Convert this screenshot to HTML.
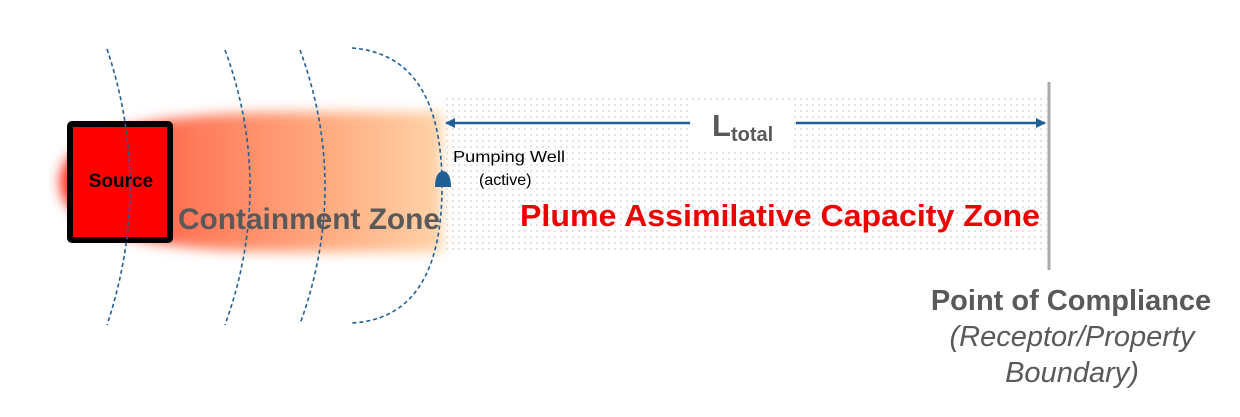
<!DOCTYPE html>
<html><head><meta charset="utf-8"><style>
html,body{margin:0;padding:0;background:#fff;}
svg{display:block;font-family:"Liberation Sans",Arial,sans-serif;}
</style></head><body>
<svg width="1240" height="417" viewBox="0 0 1240 417">
<defs>
<pattern id="dots" width="6" height="6" patternUnits="userSpaceOnUse"><circle cx="3" cy="3" r="0.7" fill="#b8b8b8"/></pattern>
<linearGradient id="plumeGrad" x1="0" x2="1" y1="0" y2="0">
<stop offset="0" stop-color="#ff2a1a"/><stop offset="0.35" stop-color="#ff7a5a"/><stop offset="0.7" stop-color="#ffab80"/><stop offset="1" stop-color="#ffd3a8"/>
</linearGradient>
<filter id="blur" x="-10%" y="-30%" width="120%" height="160%"><feGaussianBlur stdDeviation="6"/></filter>
<marker id="ah" markerWidth="10" markerHeight="10" refX="9" refY="5" orient="auto" markerUnits="userSpaceOnUse"><path d="M0,0 L10,5 L0,10 z" fill="#1f5f96"/></marker>
</defs>
<rect x="442" y="97" width="605" height="157" fill="url(#dots)"/>
<path d="M60,182 C60,120 200,112 300,112 L442,112 L442,252 L300,252 C200,252 60,244 60,182 z" fill="url(#plumeGrad)" filter="url(#blur)"/>
<rect x="70" y="124" width="100" height="116" fill="#ff0000" stroke="#000" stroke-width="6" rx="2"/>
<text x="121" y="187" text-anchor="middle" font-size="19" font-weight="bold" fill="#000">Source</text>
<g fill="none" stroke="#1f5f96" stroke-width="1.6" stroke-dasharray="4,3">
<path d="M107,49 Q153,186 107,325"/>
<path d="M225,50 Q275,186 225,325"/>
<path d="M300,50 Q350,186 300,324"/>
<path d="M352,48 Q442,55 442,186 Q442,318 352,323"/>
</g>
<text x="178" y="229" font-size="30" font-weight="bold" fill="#595959" textLength="262" lengthAdjust="spacingAndGlyphs">Containment Zone</text>
<line x1="690" y1="123" x2="446" y2="123" stroke="#1f5f96" stroke-width="2.5" marker-end="url(#ah)"/>
<line x1="796" y1="123" x2="1045" y2="123" stroke="#1f5f96" stroke-width="2.5" marker-end="url(#ah)"/>
<rect x="692" y="100" width="102" height="48" fill="#fff"/>
<text x="712" y="136" font-size="31" font-weight="bold" fill="#595959">L<tspan font-size="20" dy="5">total</tspan></text>
<path d="M435,187 Q435,172 443,171 Q451,172 451,187 z" fill="#1f5f96"/>
<text x="453" y="162" font-size="16" fill="#000" textLength="112" lengthAdjust="spacingAndGlyphs">Pumping Well</text>
<text x="479" y="185" font-size="16" fill="#000">(active)</text>
<text x="520" y="226" font-size="31" font-weight="bold" fill="#ee0000" textLength="520" lengthAdjust="spacingAndGlyphs">Plume Assimilative Capacity Zone</text>
<line x1="1049" y1="82" x2="1049" y2="270" stroke="#aaaaaa" stroke-width="3"/>
<text x="1071" y="310" text-anchor="middle" font-size="29" font-weight="bold" fill="#595959">Point of Compliance</text>
<text x="1072" y="346" text-anchor="middle" font-size="29" font-style="italic" fill="#595959">(Receptor/Property</text>
<text x="1072" y="382" text-anchor="middle" font-size="29" font-style="italic" fill="#595959">Boundary)</text>
</svg>
</body></html>
